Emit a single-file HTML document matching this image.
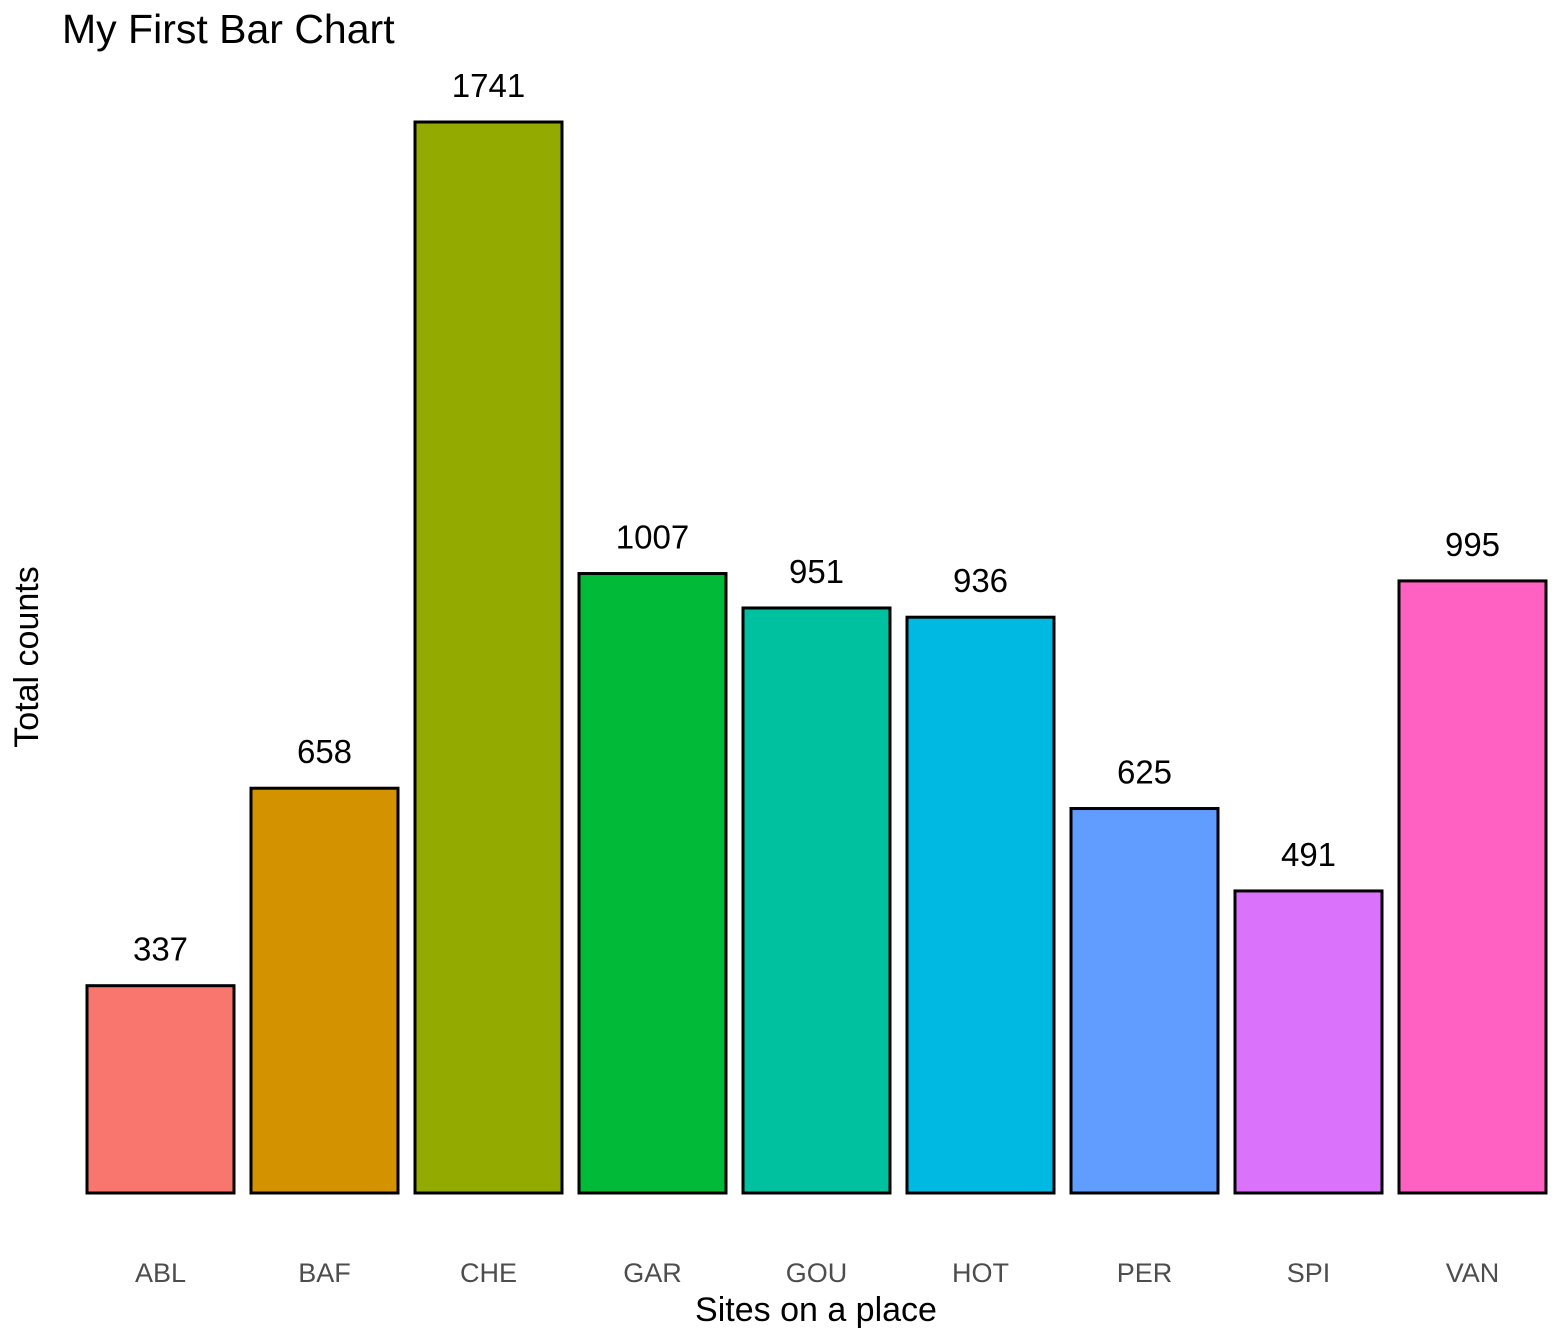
<!DOCTYPE html>
<html><head><meta charset="utf-8"><style>
body{margin:0;background:#fff;}
svg{display:block;font-family:"Liberation Sans",Arial,sans-serif;}
</style></head><body>
<svg id="chart" width="1568" height="1334" xmlns="http://www.w3.org/2000/svg">
<rect width="1568" height="1334" fill="#fff"/>
<text x="62" y="43" font-size="41" fill="#000">My First Bar Chart</text>
<text transform="translate(38,657) rotate(-90)" text-anchor="middle" font-size="34" fill="#000">Total counts</text>
<text x="816" y="1321" text-anchor="middle" font-size="34" fill="#000">Sites on a place</text>
<g id="bars"></g>
</svg>
<script>
const categories = ["ABL","BAF","CHE","GAR","GOU","HOT","PER","SPI","VAN"];
const values = [337,658,1741,1007,951,936,625,491,995];
const colors = ["#F8766D","#D39200","#93AA00","#00BA38","#00C19F","#00B9E3","#619CFF","#DB72FB","#FF61C3"];

const baseY = 1193, topY = 122, maxRef = 1741;
const x0 = 78.5, step = 164, barW = 147;
function yScale(v){ return baseY - v * (baseY - topY) / maxRef; }
function xCenter(i){ return x0 + step * i + step / 2; }

const ns = "http://www.w3.org/2000/svg";
const g = document.getElementById("bars");
categories.forEach((c, i) => {
  const cx = xCenter(i), y = yScale(values[i]);
  const r = document.createElementNS(ns, "rect");
  r.setAttribute("x", cx - barW / 2);
  r.setAttribute("y", y);
  r.setAttribute("width", barW);
  r.setAttribute("height", baseY - y);
  r.setAttribute("fill", colors[i]);
  r.setAttribute("stroke", "#000");
  r.setAttribute("stroke-width", "3");
  
  
  g.appendChild(r);

  const t = document.createElementNS(ns, "text");
  t.setAttribute("x", cx);
  t.setAttribute("y", y - 25);
  t.setAttribute("text-anchor", "middle");
  t.setAttribute("font-size", "33");
  t.setAttribute("fill", "#000");
  t.textContent = values[i];
  
  
  g.appendChild(t);

  const l = document.createElementNS(ns, "text");
  l.setAttribute("x", cx);
  l.setAttribute("y", 1282);
  l.setAttribute("text-anchor", "middle");
  l.setAttribute("font-size", "27");
  l.setAttribute("fill", "#4d4d4d");
  l.textContent = c;
  
  
  g.appendChild(l);
});
</script>
</body></html>
